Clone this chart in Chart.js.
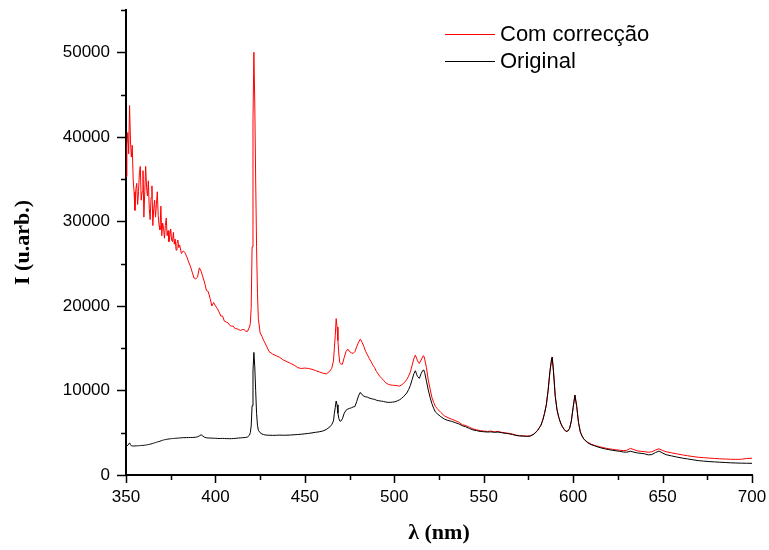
<!DOCTYPE html>
<html><head><meta charset="utf-8">
<script src="https://cdn.jsdelivr.net/npm/chart.js@4/dist/chart.umd.min.js"></script>
<style>html,body{margin:0;padding:0;background:#fff}#wrap{width:769px;height:550px;position:relative}</style>
</head><body><div id="wrap"><canvas id="c" width="769" height="550"></canvas></div>
<script>
const seriesLabels = ['Com correcção', 'Original'];
const xTickValues = [350, 400, 450, 500, 550, 600, 650, 700];
const yTickValues = [0, 10000, 20000, 30000, 40000, 50000];

const wavelength = [
350,350.5,351,351.5,352,352.5,353,353.5,354,354.5,
355,355.5,356,356.5,357,357.5,358,358.5,359,359.5,
360,360.5,361,361.5,362,362.5,363,363.5,364,364.5,
365,365.5,366,366.5,367,367.5,368,368.5,369,369.5,
370,370.5,371,371.5,372,372.5,373,373.5,374,374.5,
375,375.5,376,376.5,377,377.5,378,378.5,379,379.5,
380,381,382,383,384,385,386,387,388,389,
390,391,392,393,394,395,396,397,398,399,
400,401,402,403,404,405,406,407,408,409,
410,411,412,413,414,415,416,417,418,419,
419.5,420,420.5,421,421.5,422,422.5,423,423.5,424,
425,426,427,428,430,432,434,436,438,440,
442,444,446,448,450,452,454,456,458,460,
462,464,465,466,466.5,467,467.5,468,468.5,469,
469.5,470,471,472,473,474,475,476,477,478,
479,480,481,482,483,484,485,486,487,488,
489,490,491,492,493,494,495,496,497,498,
499,500,501,502,503,504,505,506,507,508,
509,510,511,511.8,512.5,513,514,515,516,516.5,
517,518,519,520,521,522,523,524,526,528,
530,532,534,536,538,540,542,544,546,548,
550,552,554,556,558,560,562,564,566,568,
570,572,574,576,578,580,582,583,584,585,
586,587,588,588.3,589,590,591,592,593,594,
595,596,597,598,599,600,601,602,603,604,
605,606,608,610,612,614,616,618,620,622,
624,626,628,630,632,634,636,638,640,642,
644,646,648,650,652,655,658,661,664,667,
670,673,676,679,682,685,688,691,694,697,
700];

const corrected = [
35300,39000,40500,38000,43700,39500,37600,39000,35000,33500,
31300,33800,34500,32000,33500,35800,36500,32500,33500,36000,
30500,33500,36500,34000,33000,34800,31500,30200,32800,34200,
29500,31500,32500,30500,32000,33500,30700,29500,29000,31800,
28300,29800,29200,28000,29500,30400,28300,28900,27600,28200,
29100,27800,27600,28700,27300,27900,26600,27400,27800,26900,
27200,26200,26500,26300,25800,25200,24700,24000,23300,23200,
23400,24500,24100,23400,22700,21800,21700,20900,20000,20400,
20000,19700,19300,18800,18800,18200,18100,18000,17700,17600,
17600,17300,17300,17200,17100,17200,17200,17000,17000,17500,
17900,19800,27000,42000,50000,44000,35000,27000,21500,18500,
16800,16400,15900,15500,14600,14300,14100,13900,13600,13400,
13200,13000,12700,12600,12650,12600,12500,12350,12200,12050,
11950,12300,12600,13500,15000,16500,18500,17500,15900,14300,
13300,13150,13100,13900,14600,14890,14600,14450,14380,14600,
15170,15700,16070,15700,15200,14600,14200,13800,13400,13000,
12700,12250,11950,11650,11430,11200,10950,10800,10700,10650,
10620,10600,10580,10550,10520,10650,10800,11030,11300,11700,
12200,13000,13800,14180,13800,13500,13200,13600,14050,14100,
13700,12700,11230,10200,9200,8600,8100,7850,7400,7000,
6780,6600,6450,6250,5950,5850,5650,5450,5350,5250,
5200,5150,5200,5100,5150,5050,4980,4930,4850,4720,
4650,4630,4600,4620,4850,5250,5900,6500,7300,8300,
10000,12200,13800,13910,12300,9300,7700,6800,6150,5700,
5400,5150,5200,5500,6400,8000,9450,8100,6200,5100,
4600,4250,3900,3650,3500,3380,3280,3180,3100,3040,
2980,2930,2890,2920,3150,3000,2850,2800,2760,2690,
2750,2950,3100,2900,2750,2620,2500,2380,2280,2180,
2100,2050,2000,1960,1920,1890,1860,1850,1860,1950,
1980];

const original = [
3450,3470,3500,3650,3800,3600,3450,3440,3430,3435,
3440,3445,3450,3455,3460,3470,3480,3490,3500,3505,
3510,3525,3540,3560,3580,3600,3620,3650,3680,3710,
3740,3770,3800,3835,3870,3905,3940,3970,4000,4040,
4080,4110,4140,4165,4190,4210,4230,4250,4270,4280,
4290,4300,4310,4320,4330,4340,4350,4360,4370,4375,
4380,4400,4420,4410,4430,4420,4440,4430,4450,4470,
4520,4620,4760,4600,4450,4400,4380,4370,4360,4350,
4340,4330,4310,4320,4330,4320,4300,4310,4290,4300,
4310,4330,4350,4380,4390,4410,4420,4450,4500,4700,
5000,5800,8200,12300,14500,12800,10000,7300,5900,5300,
5000,4850,4780,4730,4700,4690,4700,4720,4700,4710,
4730,4760,4790,4820,4870,4920,4980,5050,5110,5200,
5380,5700,5950,6400,7300,8000,8750,8300,7300,6700,
6400,6350,6650,7300,7650,7800,7880,7950,8050,8100,
8700,9350,9770,9500,9320,9250,9200,9100,9050,8980,
8950,8850,8800,8760,8730,8700,8640,8600,8590,8600,
8620,8650,8700,8800,8900,9050,9250,9450,9700,10100,
10600,11300,12000,12330,11900,11650,11430,12000,12380,12410,
12100,11100,10050,9200,8450,7900,7450,7250,6900,6620,
6450,6350,6200,6050,5830,5700,5500,5330,5250,5150,
5120,5080,5100,5050,5080,5000,4940,4880,4790,4680,
4620,4600,4570,4600,4820,5220,5880,6480,7280,8300,
10000,12200,13800,13950,12300,9300,7700,6800,6150,5700,
5400,5150,5200,5500,6400,8000,9450,8100,6200,5100,
4600,4250,3820,3600,3450,3300,3180,3080,3000,2920,
2860,2800,2720,2700,2820,2700,2610,2560,2500,2380,
2420,2650,2830,2600,2400,2260,2120,2000,1900,1800,
1700,1640,1590,1550,1510,1480,1440,1420,1400,1390,
1380];

const toPoints = (xs, ys) => xs.map((x, i) => ({ x: x, y: ys[i] }));

const tickFont = { family: 'Liberation Sans, Arial, sans-serif', size: 17 };
const titleFont = { family: 'Liberation Serif, Times New Roman, serif', size: 22, weight: 'bold' };

const tickMarks = {
  id: 'tickMarks',
  afterDraw(chart) {
    const ctx = chart.ctx, xs = chart.scales.x, ys = chart.scales.y;
    const a = chart.chartArea;
    ctx.save();
    ctx.strokeStyle = '#000';
    ctx.lineWidth = 1.5;
    ctx.beginPath();
    for (let v = ys.min; v <= ys.max + 1e-6; v += 5000) {
      const y = Math.round(ys.getPixelForValue(v)) + 0.5;
      const len = (v % 10000 === 0) ? 9 : 5;
      ctx.moveTo(a.left - len, y); ctx.lineTo(a.left, y);
    }
    for (let v = xs.min; v <= xs.max + 1e-6; v += 25) {
      const x = Math.round(xs.getPixelForValue(v)) + 0.5;
      const len = (v % 50 === 0) ? 8 : 5;
      ctx.moveTo(x, a.bottom); ctx.lineTo(x, a.bottom + len);
    }
    ctx.stroke();
    ctx.restore();
  }
};

const lineLegend = {
  id: 'lineLegend',
  afterDraw(chart) {
    const ctx = chart.ctx, a = chart.chartArea;
    ctx.save();
    ctx.font = '22px "Liberation Sans", Arial, sans-serif';
    ctx.textBaseline = 'middle';
    ctx.fillStyle = '#000';
    seriesLabels.forEach((lab, i) => {
      const ds = chart.data.datasets.find(d => d.label === lab);
      const y = a.top + 24 + i * 27;
      const x0 = a.left + 319;
      ctx.strokeStyle = ds.borderColor;
      ctx.lineWidth = 1;
      ctx.beginPath();
      ctx.moveTo(x0, y + 0.5); ctx.lineTo(x0 + 50, y + 0.5);
      ctx.stroke();
      ctx.fillText(lab, x0 + 55, y + 1);
    });
    ctx.restore();
  }
};

const plain = v => String(v);

new Chart(document.getElementById('c'), {
  type: 'line',
  data: {
    datasets: [
      { label: seriesLabels[0], data: toPoints(wavelength, corrected), borderColor: '#ff0000',
        borderWidth: 1, pointRadius: 0, fill: false, tension: 0, order: 2 },
      { label: seriesLabels[1], data: toPoints(wavelength, original), borderColor: '#000000',
        borderWidth: 1, pointRadius: 0, fill: false, tension: 0, order: 1 }
    ]
  },
  options: {
    responsive: false,
    animation: false,
    events: [],
    layout: { padding: { top: 10, right: 17, left: 0, bottom: 0 } },
    plugins: { legend: { display: false }, tooltip: { enabled: false } },
    scales: {
      x: {
        type: 'linear', min: 350, max: 700,
        afterBuildTicks: s => { s.ticks = xTickValues.map(v => ({ value: v })); },
        afterFit: s => { s.height = 75; s.paddingLeft = 0; s.paddingRight = 0; },
        ticks: { font: tickFont, color: '#000', padding: 12, maxRotation: 0, autoSkip: false, callback: plain },
        grid: { display: false, drawTicks: false, tickLength: 0 },
        border: { display: true, color: '#000', width: 2 },
        title: { display: true, text: 'λ (nm)', font: titleFont, color: '#000', padding: { top: 0, bottom: 3 } }
      },
      y: {
        type: 'linear', min: 0, max: 55000,
        afterBuildTicks: s => { s.ticks = yTickValues.map(v => ({ value: v })); },
        afterFit: s => { s.width = 126; s.paddingTop = 0; s.paddingBottom = 0; },
        ticks: { font: tickFont, color: '#000', padding: 16, autoSkip: false, callback: plain },
        grid: { display: false, drawTicks: false, tickLength: 0 },
        border: { display: true, color: '#000', width: 2 },
        title: { display: true, text: 'I (u.arb.)', font: titleFont, color: '#000', padding: { top: 10, bottom: 0 } }
      }
    }
  },
  plugins: [tickMarks, lineLegend]
});
</script>
</body></html>
